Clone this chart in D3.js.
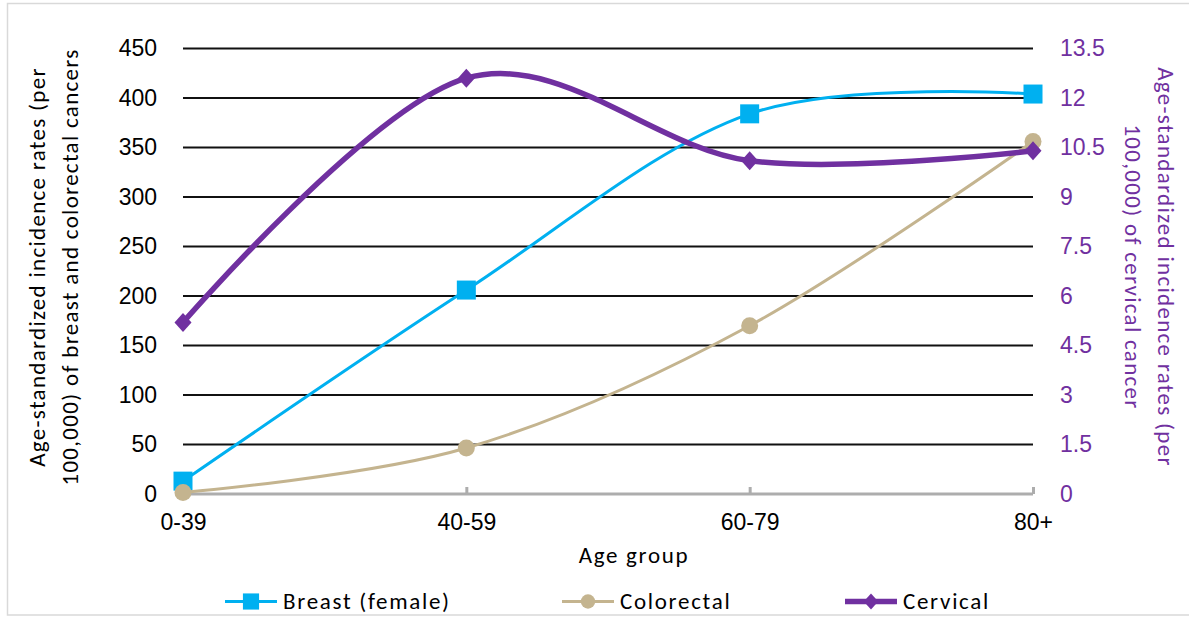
<!DOCTYPE html>
<html>
<head>
<meta charset="utf-8">
<script src="https://cdn.jsdelivr.net/npm/d3@7"></script>
<style>
  html, body { margin: 0; padding: 0; background: #fff; }
  svg { display: block; font-family: Carlito, Calibri, Lato, sans-serif; }
</style>
</head>
<body>
<svg id="chart" width="1189" height="617"></svg>
<script>
// Age groups and incidence rates per 100,000
const ageGroups = ["0-39", "40-59", "60-79", "80+"];
const breastValues = [13, 206, 384, 404];
const colorectalValues = [1.5, 46.5, 170, 356];
const cervicalValues = [5.2, 12.6, 10.1, 10.4];

const leftTicks = [0, 50, 100, 150, 200, 250, 300, 350, 400, 450];
const rightTicks = [0, 1.5, 3, 4.5, 6, 7.5, 9, 10.5, 12, 13.5];

const seriesNames = ["Breast (female)", "Colorectal", "Cervical"];
const leftTitle = ["Age-standardized incidence rates (per", "100,000) of breast and colorectal cancers"];
const rightTitle = ["Age-standardized incidence rates (per", "100,000) of cervical cancer"];
const xTitle = "Age group";

const BLUE = "#00B0F0", TAN = "#C4B48F", PURPLE = "#7030A0";

const svg = d3.select("#chart");
const W = 1189, H = 617;
const plot = { left: 183, right: 1033, top: 48.5, bottom: 494 };

// chart frame
svg.append("rect").attr("x", 0).attr("y", 0).attr("width", W).attr("height", H).attr("fill", "#fff");
svg.append("rect").attr("x", 7.5).attr("y", 3.5).attr("width", W).attr("height", 611.5)
  .attr("fill", "none").attr("stroke", "#D9D9D9").attr("stroke-width", 1.5);

const x = d3.scalePoint().domain(ageGroups).range([plot.left, plot.right]);
const yL = d3.scaleLinear().domain([0, 450]).range([plot.bottom, plot.top]);
const yR = d3.scaleLinear().domain([0, 13.5]).range([plot.bottom, plot.top]);

// horizontal gridlines
svg.append("g").selectAll("line").data(leftTicks.filter(d => d > 0)).join("line")
  .attr("x1", plot.left).attr("x2", plot.right)
  .attr("y1", d => yL(d)).attr("y2", d => yL(d))
  .attr("stroke", "#111").attr("stroke-width", 2);

// left axis labels
const gl = svg.append("g").attr("transform", `translate(${plot.left - 26},0)`)
  .call(d3.axisLeft(yL).tickValues(leftTicks).tickSize(0).tickPadding(0));
gl.select(".domain").remove();
gl.selectAll("text").attr("font-size", 23).attr("fill", "#000").attr("font-family", null);

// right axis labels
const gr = svg.append("g").attr("transform", `translate(${plot.right + 27},0)`)
  .call(d3.axisRight(yR).tickValues(rightTicks).tickFormat(d3.format("~g")).tickSize(0).tickPadding(0));
gr.select(".domain").remove();
gr.selectAll("text").attr("font-size", 23).attr("fill", PURPLE).attr("font-family", null);

// category axis with upward ticks
const gx = svg.append("g").attr("transform", `translate(0,${plot.bottom})`)
  .call(d3.axisBottom(x).tickSizeInner(-7).tickSizeOuter(0).tickPadding(20));
gx.select(".domain").attr("stroke", "#ADADAD").attr("stroke-width", 3)
  .attr("d", `M${plot.left},0H${plot.right}`);
gx.selectAll(".tick line").attr("stroke", "#ADADAD").attr("stroke-width", 3);
gx.selectAll("text").attr("font-size", 23).attr("fill", "#000").attr("font-family", null)
  .attr("dy", "0.71em");

// axis titles
svg.append("text").attr("x", 634).attr("y", 563).attr("text-anchor", "middle")
  .attr("font-size", 23).attr("letter-spacing", 1.7).text(xTitle);

const lt = svg.append("g").attr("transform", "translate(45,267) rotate(-90)");
leftTitle.forEach((t, i) => lt.append("text").attr("x", 0).attr("y", i * 33)
  .attr("text-anchor", "middle").attr("font-size", 23).attr("letter-spacing", 1.3)
  .attr("fill", "#000").text(t));

const rt = svg.append("g").attr("transform", "translate(1158,267) rotate(90)");
rightTitle.forEach((t, i) => rt.append("text").attr("x", 0).attr("y", i * 33)
  .attr("text-anchor", "middle").attr("font-size", 23).attr("letter-spacing", 1.3)
  .attr("fill", PURPLE).text(t));

// series
const smooth = d3.curveCardinal.tension(0);
const series = [
  { name: seriesNames[0], values: breastValues, y: yL, color: BLUE, width: 3, marker: "square" },
  { name: seriesNames[1], values: colorectalValues, y: yL, color: TAN, width: 3, marker: "circle" },
  { name: seriesNames[2], values: cervicalValues, y: yR, color: PURPLE, width: 5.5, marker: "diamond" }
];

function drawMarker(g, type, cx, cy, color, s) {
  if (type === "square") {
    g.append("rect").attr("x", cx - 9.5 * s).attr("y", cy - 9.5 * s)
      .attr("width", 19 * s).attr("height", 19 * s).attr("fill", color);
  } else if (type === "circle") {
    g.append("circle").attr("cx", cx).attr("cy", cy).attr("r", 8.5 * s).attr("fill", color);
  } else {
    const h = 9.5 * s, w = 8.5 * s;
    g.append("path").attr("d", `M${cx},${cy - h}L${cx + w},${cy}L${cx},${cy + h}L${cx - w},${cy}Z`).attr("fill", color);
  }
}

series.forEach(s => {
  const g = svg.append("g");
  const line = d3.line().x((d, i) => x(ageGroups[i])).y(d => s.y(d)).curve(smooth);
  g.append("path").datum(s.values).attr("d", line).attr("fill", "none")
    .attr("stroke", s.color).attr("stroke-width", s.width).attr("stroke-linecap", "round");
  s.values.forEach((v, i) => drawMarker(g, s.marker, x(ageGroups[i]), s.y(v), s.color, 1));
});

// legend
const legendX = [251, 588, 871];
const legendY = 601.5;
series.forEach((s, i) => {
  const g = svg.append("g");
  g.append("line").attr("x1", legendX[i] - 26).attr("x2", legendX[i] + 26)
    .attr("y1", legendY).attr("y2", legendY).attr("stroke", s.color).attr("stroke-width", s.width);
  drawMarker(g, s.marker, legendX[i], legendY, s.color, 0.85);
  g.append("text").attr("x", legendX[i] + 32).attr("y", legendY + 7)
    .attr("font-size", 23).attr("letter-spacing", 1.7).attr("fill", "#000").text(s.name);
});
</script>
</body>
</html>
